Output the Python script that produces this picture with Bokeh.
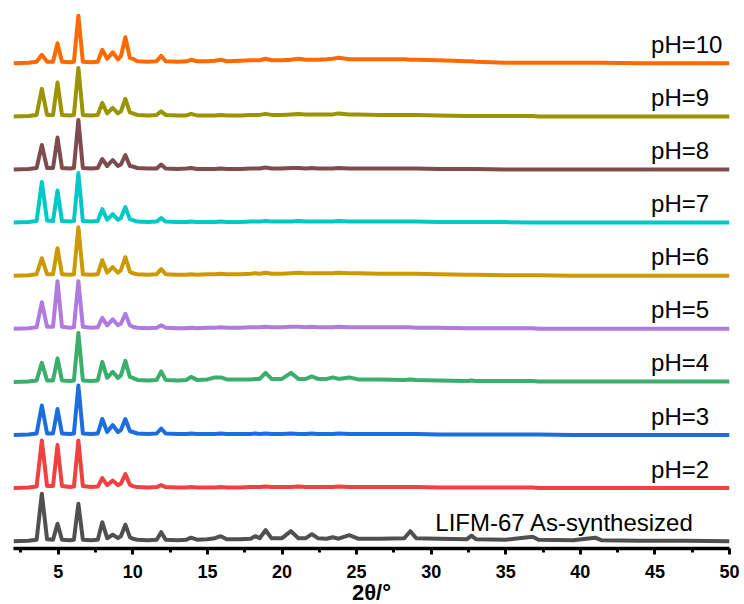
from bokeh.plotting import figure
from bokeh.models import Range1d, FixedTicker, ColumnDataSource
from bokeh.core.properties import value
from bokeh.embed import file_html
from bokeh.resources import INLINE

# 2-theta sampling points: peak region and wide-angle region
x_low = [2.0, 3.0, 3.55, 3.9, 4.25, 4.65, 4.95, 5.25, 5.8, 6.05, 6.35, 6.65, 7.2, 7.65,
         7.95, 8.28, 8.65, 9.0, 9.2, 9.5, 9.8, 10.0, 10.3, 11.0, 11.6, 11.9, 12.2, 13.0,
         13.6, 13.9, 14.3]
x_high = [15.0, 15.5, 15.9, 16.3, 17.2, 17.9, 18.2, 18.5, 18.9, 19.3, 20.0, 20.6, 21.1,
          21.6, 22.0, 22.4, 23.0, 23.4, 23.8, 24.5, 25.1, 26.5, 28.2, 28.6, 29.0, 30.5,
          32.4, 32.7, 33.0, 35.0, 36.8, 37.2, 39.5, 41.0, 41.4, 44.0, 47.0, 50.0]

# Relative intensities (a.u.) above each pattern's own baseline
i_as = [0, 0.5, 1.5, 47.5, 2, 1.5, 17.5, 1.5, 1, 1.5, 37.5, 1.5, 1, 1.5, 19, 3, 6.5, 3, 5, 16.5,
        4, 2.5, 1.5, 1, 1.5, 9, 1.5, 1, 1.5, 3.5, 1.5,
        2, 3, 5, 2, 2, 2.5, 5, 3, 11, 3, 3, 10, 3, 3, 7, 3, 2.5, 4, 2.5, 6, 2.5, 2.5, 3, 10, 3,
        2.5, 2, 5.5, 2, 1.5, 4.5, 1.5, 1, 3.5, 1, 0.5, 0.5, 0]
i_ph2 = [0, 0.5, 1.5, 47.5, 2, 2, 43, 2, 1, 1.5, 47.5, 2, 1, 1.5, 10, 3, 7.5, 3, 4.5, 14,
         3.5, 2, 1, 0.5, 1, 3, 1, 0.5, 0.5, 1, 0.5,
         0.5, 0.5, 1, 0.5, 0.5, 1, 1, 1, 1.5, 1, 1, 1, 1.5, 1, 1, 1, 1, 1, 1.5, 1, 1, 1, 1, 1, 1,
         0.5, 0.5, 0.5, 0.5, 0.5, 0.5, 0, 0, 0, 0, 0, 0, 0]
i_ph3 = [0, 0.5, 1.5, 29.5, 1.5, 1.5, 26, 1.5, 1, 1.5, 49.5, 1.5, 1, 1.5, 16, 3, 10, 3, 5, 16,
         4, 3, 1.5, 1, 1.5, 6.5, 1.5, 1, 1, 1.5, 1,
         1, 1, 1.5, 1, 1, 1, 1.5, 1, 1.5, 1, 1, 1.5, 1, 1, 1.5, 1, 1, 1, 1.5, 1, 1, 1, 1, 1, 1,
         0.5, 0.5, 0.5, 0.5, 0.5, 0.5, 0.5, 0, 0, 0, 0, 0, 0]
i_ph4 = [0, 0.5, 1.5, 19, 1.5, 1.5, 23.5, 1.5, 1, 1.5, 49, 1.5, 1, 1.5, 20, 4, 10, 4, 6.5, 21,
         5, 4, 2, 1.5, 2, 10.5, 2, 1.5, 2, 5, 2,
         2.5, 4.5, 4.5, 2.5, 2.5, 2.5, 3, 3, 9, 3, 3, 9, 3, 3, 5.5, 3, 3, 4.5, 3, 4.5, 2.5, 2.5, 2,
         2.5, 2, 1.5, 1, 1.5, 1, 1, 1, 0.5, 0.5, 0.5, 0.5, 0.5, 0.5, 0.5]
i_ph5 = [0, 0.5, 1.5, 26.5, 2, 2, 47.5, 2, 1, 1.5, 47.5, 2, 1, 1.5, 11, 3.5, 9.5, 3.5, 5, 15,
         3.5, 2, 1, 0.5, 1, 3.5, 1, 0.5, 0.5, 1, 0.5,
         1, 1, 1.5, 1, 1, 1.5, 1.5, 1.5, 2, 1.5, 1.5, 2, 2, 1.5, 2, 1.5, 1.5, 1.5, 2, 1.5, 1.5,
         1.5, 1.5, 1.5, 1, 1, 0.5, 0.5, 0.5, 0.5, 0.5, 0, 0, 0, 0, 0, 0, 0]
i_ph6 = [0, 0.5, 1.5, 17.5, 1.5, 1.5, 27.5, 1.5, 1, 1.5, 48.5, 1.5, 1, 1.5, 15.5, 3, 8.5, 3, 5.5, 18.5,
         4, 2.5, 1.5, 1, 1.5, 6.5, 1.5, 1, 1, 1.5, 1,
         1.5, 1.5, 2, 1.5, 1.5, 2, 2.5, 2, 3, 2, 2, 2.5, 3, 2.5, 2.5, 2.5, 2.5, 2.5, 3, 2.5, 2.5,
         2, 2, 2, 2, 1.5, 1, 1, 1, 0.5, 0.5, 0.5, 0, 0, 0, 0, 0, 0]
i_ph7 = [0, 0.5, 1.5, 40.5, 2, 1.5, 32, 1.5, 1, 1.5, 49.5, 1.5, 1, 1.5, 13.5, 3, 8.5, 3, 4.5, 15.5,
         3.5, 2.5, 1, 0.5, 1, 4.5, 1, 0.5, 0.5, 1, 0.5,
         0.5, 0.5, 1, 0.5, 0.5, 1, 1, 1, 1.5, 1, 1, 1, 1.5, 1, 1, 1, 1, 1, 1.5, 1, 1, 1, 1, 1, 1,
         0.5, 0.5, 0.5, 0.5, 0.5, 0, 0, 0, 0, 0, 0, 0, 0]
i_ph8 = [0, 0.5, 1.5, 24.5, 1.5, 1.5, 32, 1.5, 1, 1.5, 49.5, 1.5, 1, 1.5, 10.5, 3.5, 9.5, 3.5, 5, 14.5,
         3.5, 3, 1.5, 1, 1, 5, 1, 0.5, 1, 1.5, 0.5,
         0.5, 0.5, 1, 0.5, 0.5, 1, 1, 1, 2, 1, 1, 1.5, 1.5, 1, 1.5, 1, 1, 1, 1.5, 1, 1, 1, 1, 1, 1,
         0.5, 0.5, 0.5, 0.5, 0, 0, 0, 0, 0, 0, 0, 0, 0]
i_ph9 = [0, 0.5, 1.5, 27.5, 1.5, 1.5, 34, 1.5, 1, 1.5, 48.5, 1.5, 1, 1.5, 13.5, 3, 8.5, 3, 5, 17.5,
         4, 3, 1.5, 1, 1.5, 5, 1.5, 1, 1, 2.5, 1,
         1, 1, 1.5, 1, 1, 1.5, 1.5, 1.5, 2.5, 1.5, 1.5, 2, 2.5, 2, 2, 2, 2, 2, 3, 2, 2, 1.5, 1.5,
         1.5, 1.5, 1, 0.5, 0.5, 0.5, 0.5, 0.5, 0, 0, 0, 0, 0, 0, 0]
i_ph10 = [0, 0.5, 1.5, 8.5, 1.5, 1.5, 20, 1.5, 1, 1.5, 47.5, 1.5, 1, 1.5, 13.5, 4.5, 11, 4, 7, 26,
          5.5, 4.5, 2, 1.5, 2, 7.5, 2, 1.5, 2, 3.5, 2,
          2, 2.5, 3.5, 2, 2.5, 3, 3, 3, 4.5, 3, 3, 3.5, 4.5, 3.5, 3.5, 3.5, 4, 4.5, 5.5, 4, 4, 4, 4,
          3.5, 3.5, 3, 2, 2, 1.5, 0.5, 0.5, 0.5, 0.5, 0.5, 0.5, 0, 0, 0]

labels = ["LIFM-67 As-synthesized", "pH=2", "pH=3", "pH=4", "pH=5", "pH=6",
          "pH=7", "pH=8", "pH=9", "pH=10"]
colors = ["#505050", "#F04141", "#1C6EDF", "#3AAE6A", "#B07BE0", "#CC9A00",
          "#00C8C8", "#7E4C4C", "#999400", "#FF6A00"]
patterns = [i_as, i_ph2, i_ph3, i_ph4, i_ph5, i_ph6, i_ph7, i_ph8, i_ph9, i_ph10]

two_theta = x_low + x_high
base0, step = 7.3, 53.1   # vertical offset of the stacked patterns

p = figure(frame_width=716, frame_height=548,
           x_range=Range1d(2, 50), y_range=Range1d(0, 548),
           output_backend="svg", toolbar_location=None, y_axis_location=None,
           min_border_left=13, min_border_right=15, min_border_top=0, min_border_bottom=56)
p.background_fill_color = "white"
p.border_fill_color = "white"
p.outline_line_color = None
p.xgrid.visible = False
p.ygrid.visible = False

for k, (inten, col) in enumerate(zip(patterns, colors)):
    off = base0 + k * step
    n = min(len(two_theta), len(inten))
    src = ColumnDataSource(dict(x=two_theta[:n], y=[v + off for v in inten[:n]]))
    p.line("x", "y", source=src, line_color=col, line_width=4, line_join="round")

# Sample labels, set just above each baseline
lab_x = [30.28] + [44.74] * 9
lab_y = [base0 + k * step + 19 for k in range(len(labels))]
p.text(x=lab_x, y=lab_y, text=labels, text_font=value("Liberation Sans"),
       text_font_size="24px", text_color="black", text_align="left",
       text_baseline="alphabetic")

ax = p.xaxis[0]
ax.ticker = FixedTicker(ticks=[5, 10, 15, 20, 25, 30, 35, 40, 45, 50],
                        minor_ticks=[2.5, 7.5, 12.5, 17.5, 22.5, 27.5, 32.5, 37.5, 42.5, 47.5])
ax.axis_line_width = 3.5
ax.axis_line_color = "black"
ax.major_tick_line_width = 3
ax.minor_tick_line_width = 3
ax.major_tick_line_color = "black"
ax.minor_tick_line_color = "black"
ax.major_tick_in = 0
ax.major_tick_out = 6
ax.minor_tick_in = 0
ax.minor_tick_out = 4
ax.major_label_text_font = "Liberation Sans"
ax.major_label_text_font_size = "18px"
ax.major_label_text_font_style = "bold"
ax.major_label_text_color = "black"
ax.major_label_standoff = 10
ax.axis_label = "2θ/°"
ax.axis_label_text_font = "Liberation Sans"
ax.axis_label_text_font_size = "22px"
ax.axis_label_text_font_style = "bold"
ax.axis_label_text_color = "black"
ax.axis_label_standoff = -1

open("out.html", "w").write(file_html(p, INLINE))
